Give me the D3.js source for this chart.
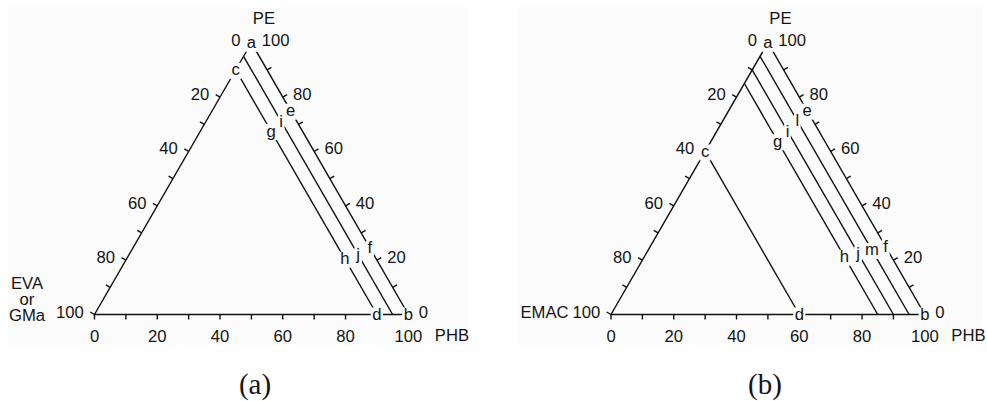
<!doctype html>
<meta charset=utf8>
<title>Ternary diagrams PE / PHB / EVA, EMAC</title>
<style>
  html { background: white; }
  body { margin: 0; }
  svg { display: block; }
  text { font-family: "Liberation Sans", Arial, sans-serif; font-size: 16px; fill: #141414; }
  .caption { font-family: "Liberation Serif", "Times New Roman", serif; font-size: 29px; }
  .edge, .tick, .iso { stroke: #111; stroke-width: 1.4; fill: none; }
</style>
<svg width=987 height=401></svg>
<script src=https://d3js.org/d3.v7.min.js></script>
<script>
  // wt% ticks, shared by the three sides
  var tickValues = d3.range(0, 101, 10);
  var tickLabels = [0, 20, 40, 60, 80, 100];

  var captions = ['(a)', '(b)'];
  var thirdTitles = [['EVA', 'or', 'GMa'], ['EMAC']];

  // lines of constant EVA / EMAC content (wt%)
  var isoA = [5, 10];
  var isoB = [5, 10, 15, 40];

  // letters: which line (EVA or EMAC wt%) and the PE wt% where they sit
  var lettersA = [
    {name: 'a', third: 0, pe: 100}, {name: 'b', third: 0, pe: 0},
    {name: 'c', third: 10, pe: 90}, {name: 'd', third: 10, pe: 0},
    {name: 'e', third: 0, pe: 75}, {name: 'f', third: 0, pe: 24.5},
    {name: 'i', third: 5, pe: 71}, {name: 'j', third: 5, pe: 22},
    {name: 'g', third: 10, pe: 67.5}, {name: 'h', third: 10, pe: 20.5}
  ];
  var lettersB = [
    {name: 'a', third: 0, pe: 100}, {name: 'b', third: 0, pe: 0},
    {name: 'c', third: 40, pe: 60}, {name: 'd', third: 40, pe: 0},
    {name: 'e', third: 0, pe: 75}, {name: 'f', third: 0, pe: 25},
    {name: 'l', third: 5, pe: 71.25}, {name: 'm', third: 5, pe: 23.75},
    {name: 'i', third: 10, pe: 67.5}, {name: 'j', third: 10, pe: 22.5},
    {name: 'g', third: 15, pe: 63.75}, {name: 'h', third: 15, pe: 21.25}
  ];

  var svg = d3.select('svg');
  var bg = '#fbfbfb';
  var W = 313.8;
  var H = W * Math.sqrt(3) / 2;
  var yBase = 314.5;
  var tickLen = 5;
  var sx = 1.04;

  var panels = [
    {x0: 94.5, box: [8, 468], iso: isoA, letters: lettersA, capX: 255},
    {x0: 611, box: [518, 983], iso: isoB, letters: lettersB, capX: 765}
  ];

  panels.forEach(function(p, k) {
    var g = svg.append('g');
    var x = d3.scaleLinear().domain([0, 100]).range([p.x0, p.x0 + W]);
    var y = d3.scaleLinear().domain([0, 100]).range([yBase, yBase - H]);

    // phb, pe -> screen
    function pt(phb, pe) {
      return [x(phb + pe / 2), y(pe)];
    }

    g.append('rect')
      .attr('x', p.box[0]).attr('y', 7)
      .attr('width', p.box[1] - p.box[0]).attr('height', 338)
      .attr('fill', bg);

    var A = pt(0, 100), L = pt(0, 0), R = pt(100, 0);
    g.append('path').attr('class', 'edge')
      .attr('d', d3.line()([A, L, R, A]) + 'Z');

    // three axes: bottom PHB, left EVA/EMAC, right PE
    var axes = [
      {at: function(v) { return pt(v, 0); }, n: [0, 1], anchor: 'middle', dx: 0, dy: 22},
      {at: function(v) { return pt(0, 100 - v); }, n: [-0.866, -0.5], anchor: 'end', dx: -6.5, dy: 5.5},
      {at: function(v) { return pt(100 - v, v); }, n: [0.866, -0.5], anchor: 'start', dx: 6, dy: 5.5}
    ];

    axes.forEach(function(ax) {
      g.selectAll(null).data(tickValues).enter().append('line')
        .attr('class', 'tick')
        .attr('x1', function(v) { return ax.at(v)[0]; })
        .attr('y1', function(v) { return ax.at(v)[1]; })
        .attr('x2', function(v) { return ax.at(v)[0] + ax.n[0] * tickLen; })
        .attr('y2', function(v) { return ax.at(v)[1] + ax.n[1] * tickLen; });

      g.selectAll(null).data(tickLabels).enter().append('text')
        .attr('text-anchor', ax.anchor)
        .attr('transform', function(v) {
          var q = ax.at(v);
          return 'translate(' + (q[0] + ax.n[0] * tickLen + ax.dx) + ',' +
            (q[1] + ax.n[1] * tickLen + ax.dy) + ') scale(' + sx + ',1)';
        })
        .text(function(v) { return v; });
    });

    // constant third-component lines
    g.selectAll(null).data(p.iso).enter().append('line')
      .attr('class', 'iso')
      .attr('x1', function(v) { return pt(0, 100 - v)[0]; })
      .attr('y1', function(v) { return pt(0, 100 - v)[1]; })
      .attr('x2', function(v) { return pt(100 - v, 0)[0]; })
      .attr('y2', function(v) { return pt(100 - v, 0)[1]; });

    // axis titles
    g.append('text').attr('text-anchor', 'middle')
      .attr('transform', 'translate(' + (A[0] + 12.5) + ',23.5) scale(' + sx + ',1)')
      .text('PE');
    g.append('text').attr('text-anchor', 'start')
      .attr('transform', 'translate(' + (R[0] + 26.5) + ',341) scale(' + sx + ',1)')
      .text('PHB');

    var tt = thirdTitles[k];
    if (tt.length > 1) {
      g.selectAll(null).data(tt).enter().append('text')
        .attr('text-anchor', 'middle')
        .attr('transform', function(d, i) { return 'translate(27,' + (288.5 + i * 16) + ') scale(' + sx + ',1)'; })
        .text(function(d) { return d; });
    } else {
      g.append('text').attr('text-anchor', 'end')
        .attr('transform', 'translate(' + (L[0] - 42.5) + ',317.5) scale(' + sx + ',1)')
        .text(tt[0]);
    }

    // letters sit on the lines, masking them
    var lg = g.selectAll(null).data(p.letters).enter().append('g')
      .attr('transform', function(d) {
        var q = pt(100 - d.third - d.pe, d.pe);
        return 'translate(' + q[0] + ',' + q[1] + ')';
      });
    lg.append('rect').attr('fill', bg);
    lg.append('text')
      .attr('text-anchor', 'middle')
      .attr('transform', 'translate(0,5.5) scale(' + sx + ',1)')
      .text(function(d) { return d.name; });
    lg.select('rect').each(function() {
      var t = this.parentNode.querySelector('text').getBBox();
      var w = t.width * sx + 3;
      d3.select(this).attr('x', -w / 2).attr('y', -7).attr('width', w).attr('height', 16);
    });

    g.append('text').attr('class', 'caption')
      .attr('text-anchor', 'middle')
      .attr('x', p.capX).attr('y', 394)
      .text(captions[k]);
  });
</script>
